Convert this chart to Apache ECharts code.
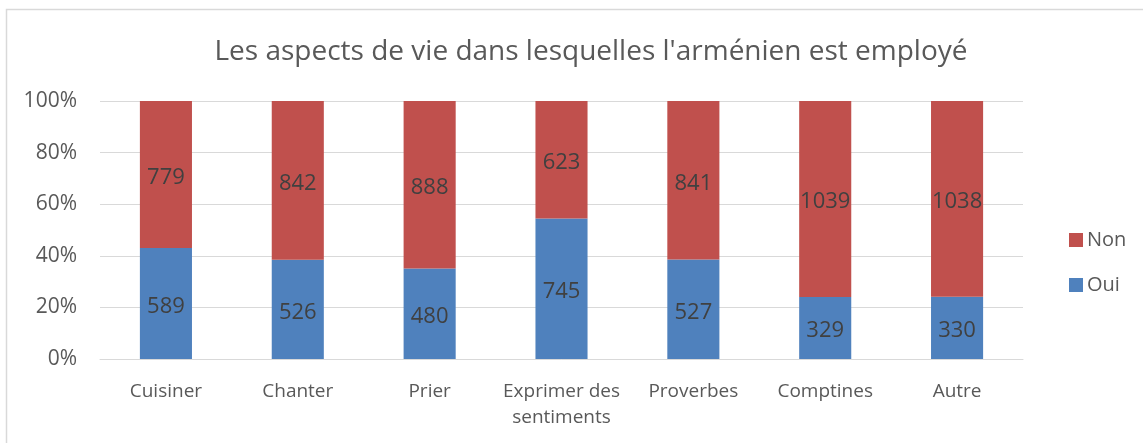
<!DOCTYPE html>
<html>
<head>
<meta charset="utf-8">
<script src="https://cdn.jsdelivr.net/npm/echarts@6/dist/echarts.min.js"></script>
<style>
html,body{margin:0;padding:0;background:#fff;}
#c{width:1143px;height:443px;}
</style>
</head>
<body>
<div id="c"></div>
<script>
const categories = ['Cuisiner', 'Chanter', 'Prier', 'Exprimer des\nsentiments', 'Proverbes', 'Comptines', 'Autre'];
const oui = [589, 526, 480, 745, 527, 329, 330];
const non = [779, 842, 888, 623, 841, 1039, 1038];
const yTicks = [0, 20, 40, 60, 80, 100];

const totals = oui.map((v, i) => v + non[i]);
const ouiPct = oui.map((v, i) => ({ value: v / totals[i] * 100, raw: v }));
const nonPct = non.map((v, i) => ({ value: v / totals[i] * 100, raw: v }));

const font = '"Open Sans", "Liberation Sans", sans-serif';
const chart = echarts.init(document.getElementById('c'));
chart.setOption({
  animation: false,
  title: {
    text: "Les aspects de vie dans lesquelles l'arménien est employé",
    left: 586, textAlign: 'center', top: 33,
    textStyle: { fontFamily: font, fontSize: 28, fontWeight: 'normal', color: '#595959' }
  },
  graphic: [{
    type: 'rect', shape: { x: 6.5, y: 9.5, width: 1200, height: 500 },
    style: { fill: 'none', stroke: '#d9d9d9', lineWidth: 1.5 }, silent: true
  }],
  legend: {
    orient: 'vertical', left: 1064, top: 225, itemGap: 25,
    itemWidth: 14, itemHeight: 14, icon: 'rect',
    data: ['Non', 'Oui'],
    textStyle: { fontFamily: font, fontSize: 20, lineHeight: 20, color: '#595959', padding: [0, 0, 0, -1] }
  },
  grid: { left: 100, right: 120, top: 101, bottom: 84 },
  xAxis: {
    type: 'category', data: categories,
    axisTick: { show: false },
    axisLine: { lineStyle: { color: '#d9d9d9', width: 1 } },
    axisLabel: { fontFamily: font, fontSize: 19, color: '#595959', margin: 20, lineHeight: 26, interval: 0 }
  },
  yAxis: {
    type: 'value', min: yTicks[0], max: yTicks[yTicks.length - 1], interval: 20,
    axisLine: { show: false }, axisTick: { show: false },
    splitLine: { lineStyle: { color: '#d9d9d9', width: 1 } },
    axisLabel: { fontFamily: font, fontSize: 21, color: '#595959', margin: 23, formatter: v => v + '%' }
  },
  series: [
    {
      name: 'Oui', type: 'bar', stack: 's', data: ouiPct, barWidth: '39.5%',
      itemStyle: { color: '#4F81BD' },
      label: { show: true, position: 'inside', offset: [0, 3], fontFamily: font, fontSize: 22, color: '#404040',
        formatter: p => p.data.raw }
    },
    {
      name: 'Non', type: 'bar', stack: 's', data: nonPct, barWidth: '39.5%',
      itemStyle: { color: '#C0504D' },
      label: { show: true, position: 'inside', offset: [0, 3], fontFamily: font, fontSize: 22, color: '#404040',
        formatter: p => p.data.raw }
    }
  ]
});
</script>
</body>
</html>
